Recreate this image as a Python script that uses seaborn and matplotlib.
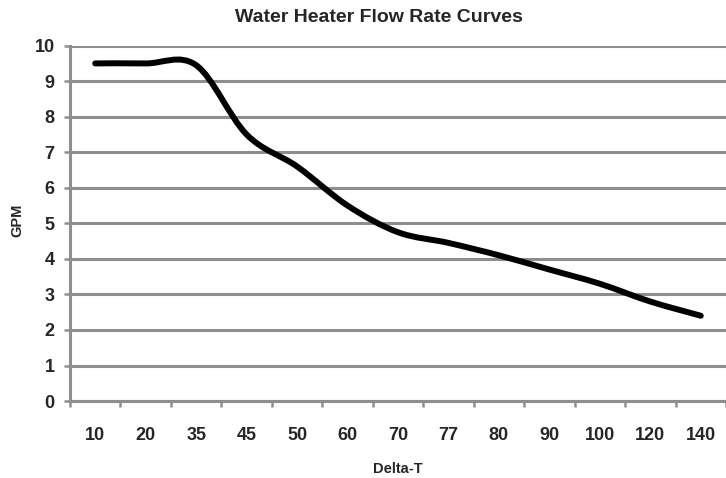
import matplotlib
matplotlib.use('Agg')
import matplotlib.pyplot as plt
from matplotlib.path import Path
from matplotlib.patches import PathPatch
import numpy as np
import pandas as pd
import seaborn as sns

## Data
delta_t = ['10', '20', '35', '45', '50', '60', '70', '77', '80', '90', '100', '120', '140']
gpm = [9.5, 9.5, 9.45, 7.5, 6.6, 5.5, 4.75, 4.45, 4.1, 3.7, 3.3, 2.8, 2.4]
y_ticks = [0, 1, 2, 3, 4, 5, 6, 7, 8, 9, 10]

data = pd.DataFrame({'Delta-T': delta_t, 'GPM': gpm})
data['pos'] = np.arange(len(data))

sns.set_style('white')
plt.rcParams['font.family'] = ['Liberation Sans', 'DejaVu Sans']
plt.rcParams['font.weight'] = 'bold'

grey = '#8e8e8e'

fig = plt.figure(figsize=(7.26, 4.78), dpi=100)
ax = fig.add_axes([70 / 726, 0.161, 1 - 70 / 726, 0.7435])

## seaborn line for the data, then swap in an Excel-style smoothed path
sns.lineplot(data=data, x='pos', y='GPM', ax=ax, color='black', lw=4.3)
ax.lines[0].set_visible(False)

px = data['pos'].to_numpy(dtype=float)
py = data['GPM'].to_numpy(dtype=float)
xe = np.concatenate([[px[0]], px, [px[-1]]])
ye = np.concatenate([[py[0]], py, [py[-1]]])
verts = [(px[0], py[0])]
codes = [Path.MOVETO]
for i in range(len(px) - 1):
    j = i + 1
    c1 = (xe[j] + (xe[j + 1] - xe[j - 1]) / 6, ye[j] + (ye[j + 1] - ye[j - 1]) / 6)
    c2 = (xe[j + 1] - (xe[j + 2] - xe[j]) / 6, ye[j + 1] - (ye[j + 2] - ye[j]) / 6)
    verts += [c1, c2, (px[i + 1], py[i + 1])]
    codes += [Path.CURVE4] * 3
ax.add_patch(PathPatch(Path(verts, codes), facecolor='none', edgecolor='black',
                       lw=4.3, capstyle='round', joinstyle='round', zorder=3))

ax.set_xlim(-0.5, 12.43)
ax.set_ylim(0, 10)
ax.set_yticks(y_ticks)
ax.set_xticks(data['pos'])
ax.set_xticklabels(delta_t)
ax.set_xticks(np.arange(-0.5, 13, 1), minor=True)

ax.grid(axis='y', color=grey, lw=2.2)
ax.set_axisbelow(True)
for side in ['top', 'right']:
    ax.spines[side].set_visible(False)
for side in ['left', 'bottom']:
    ax.spines[side].set_color(grey)
    ax.spines[side].set_linewidth(2.2)

ax.tick_params(axis='y', which='major', left=True, length=4.5, width=1.8, color=grey,
               pad=6.5, labelsize=13)
ax.tick_params(axis='x', which='major', bottom=True, length=0, pad=18.5, labelsize=13)
ax.tick_params(axis='x', which='minor', bottom=True, length=4.5, width=1.8, color=grey)

ax.set_xlabel('Delta-T', fontsize=10.5, fontweight='bold')
ax.xaxis.set_label_coords((398 - 70) / 656, ((478 - 469) / 478 - 0.161) / 0.7435)
ax.xaxis.label.set_va('center')
ax.set_ylabel('GPM', fontsize=10.5, fontweight='bold')
ax.yaxis.set_label_coords((17.5 - 70) / 656, ((478 - 220) / 478 - 0.161) / 0.7435)
ax.yaxis.label.set_va('center')
ax.yaxis.label.set_ha('center')

fig.text(379 / 726, 1 - 17 / 478, 'Water Heater Flow Rate Curves', ha='center', va='center',
         fontsize=14, fontweight='bold')

fig.savefig('out.png', dpi=100)
